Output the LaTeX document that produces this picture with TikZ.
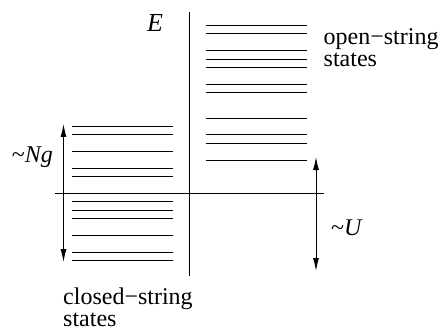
\documentclass[tikz,border=0pt]{standalone}
\usepackage{fontspec}
\setmainfont{Liberation Serif}
\usetikzlibrary{arrows.meta}
\tikzset{
  level/.style={line width=0.9pt, black},
  axis/.style={line width=0.9pt, black},
  dblarrow/.style={line width=0.9pt, {Latex[length=13pt,width=6pt]}-{Latex[length=13pt,width=6pt]}},
  lbl/.style={inner sep=0pt, font=\fontsize{24}{22}\selectfont},
}
\begin{document}
\begin{tikzpicture}[x=1pt,y=-1pt]
\useasboundingbox (0,0) rectangle (438,331);
% axes
\coordinate (vtop) at (189,12);
\coordinate (vbot) at (189,276);
\coordinate (hl) at (55,193.5);
\coordinate (hr) at (324,193.5);
\draw[axis] (vtop) -- (vbot);
\draw[axis] (hl) -- (hr);
% open-string levels
\foreach \y in {25.3,33.7,50.7,59,67.3,84.3,92.7,118,134.7,143.3,160.3}
  \draw[level] (206,\y) -- (307,\y);
% closed-string levels
\foreach \y in {126,134.3,151.7,168.7,176.7,201.7,210,218.3,235.7,252.7,260.7}
  \draw[level] (72,\y) -- (173,\y);
% arrows
\coordinate (ngt) at (63.5,124);
\coordinate (ngb) at (63.5,262);
\draw[dblarrow] (ngt) -- (ngb);
\coordinate (ut) at (316,157);
\coordinate (ub) at (316,271);
\draw[dblarrow] (ut) -- (ub);
% labels
\node[lbl, anchor=base west, font=\fontsize{26}{26}\selectfont\itshape] (E) at (147,32) {E};
\node[lbl, anchor=base east] (Ng) at (53,162) {\textasciitilde\textit{Ng}};
\node[lbl, anchor=base west] (U) at (331,235) {\textasciitilde\textit{U}};
\node[lbl, anchor=base west, align=left] (open) at (323.5,66.7) {open−string\\states};
\node[lbl, anchor=base west, align=left] (closed) at (63,326) {closed−string\\states};
\end{tikzpicture}
\end{document}
